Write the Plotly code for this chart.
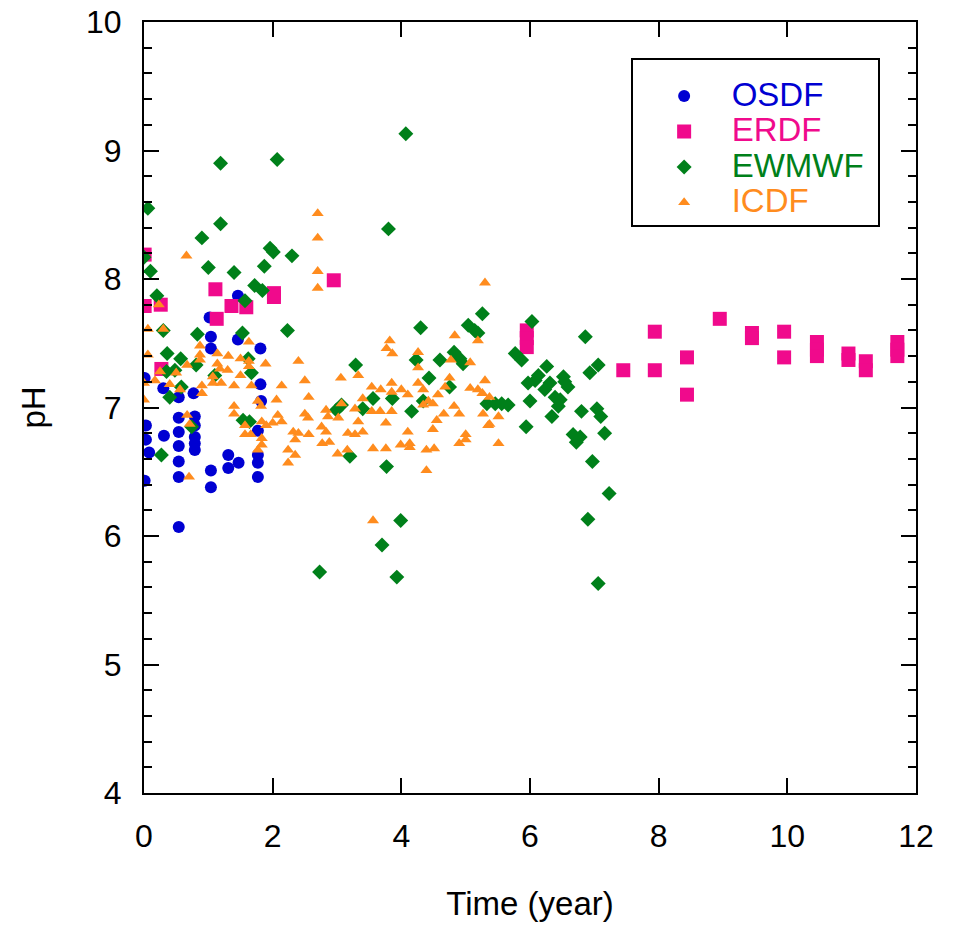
import plotly.graph_objects as go

# ---------------- data ----------------
OSDF = [(1.46, 7.87), (1.02, 7.70), (1.04, 7.55), (1.04, 7.46), (1.46, 7.53), (1.81, 7.46),
        (0.01, 7.23), (0.30, 7.15), (0.54, 7.08), (0.77, 7.11), (1.81, 7.18), (1.82, 7.05),
        (0.03, 6.86), (0.54, 6.92), (0.79, 6.93), (0.79, 6.86), (0.79, 6.77), (0.79, 6.72),
        (0.79, 6.67), (0.03, 6.75), (0.31, 6.78), (0.54, 6.81), (1.77, 6.82), (0.08, 6.65),
        (0.54, 6.70), (0.54, 6.58), (0.54, 6.46), (1.31, 6.63), (1.31, 6.53), (1.47, 6.57),
        (1.77, 6.63), (1.77, 6.57), (1.77, 6.46), (1.04, 6.51), (1.04, 6.38), (0.01, 6.43),
        (0.54, 6.07)]

ERDF = [(0.01, 8.19), (0.01, 7.79), (0.26, 7.80), (1.11, 7.92), (1.36, 7.79), (1.59, 7.78),
        (2.02, 7.89), (2.02, 7.86), (1.13, 7.69), (0.27, 7.30), (2.95, 7.99), (5.95, 7.60),
        (5.95, 7.54), (5.95, 7.47), (7.45, 7.29), (7.94, 7.59), (7.94, 7.29), (8.44, 7.39),
        (8.44, 7.10), (8.95, 7.69), (9.45, 7.58), (9.45, 7.54), (9.95, 7.59), (9.95, 7.39),
        (10.46, 7.51), (10.46, 7.45), (10.46, 7.40), (10.95, 7.42), (10.95, 7.37),
        (11.22, 7.36), (11.22, 7.29), (11.71, 7.51), (11.71, 7.45), (11.71, 7.40)]

EWMWF = [(1.19, 8.90), (2.07, 8.93), (0.06, 8.55), (1.19, 8.43), (0.90, 8.32), (1.96, 8.24),
         (2.01, 8.21), (2.30, 8.18), (0.00, 8.17), (0.10, 8.06), (1.00, 8.09), (1.40, 8.05),
         (1.87, 8.10), (1.72, 7.95), (1.84, 7.91), (1.57, 7.83), (0.20, 7.87), (0.30, 7.60),
         (0.83, 7.57), (1.53, 7.58), (2.23, 7.60), (0.36, 7.42), (0.57, 7.38), (0.81, 7.33),
         (1.62, 7.38), (1.67, 7.27), (1.10, 7.25), (0.35, 7.28), (0.48, 7.29), (0.58, 7.16),
         (0.40, 7.08), (1.54, 6.90), (1.64, 6.89), (0.74, 6.85), (0.27, 6.63),
         (4.07, 9.13), (3.80, 8.39), (4.30, 7.62), (5.26, 7.73), (5.04, 7.64), (5.14, 7.60),
         (5.19, 7.58), (3.29, 7.33), (4.23, 7.37), (4.60, 7.37), (4.82, 7.43), (4.91, 7.38),
         (4.96, 7.34), (4.43, 7.23), (4.75, 7.16), (3.07, 7.02), (2.99, 6.98), (3.40, 6.99),
         (3.56, 7.07), (3.86, 7.07), (4.16, 6.97), (4.34, 7.05), (5.33, 7.03), (3.20, 6.62),
         (3.77, 6.54), (3.99, 6.12), (3.70, 5.93), (2.73, 5.72), (3.93, 5.68),
         (6.03, 7.67), (6.86, 7.55), (5.77, 7.42), (5.87, 7.37), (7.06, 7.33), (6.93, 7.27),
         (6.26, 7.32), (6.13, 7.25), (5.97, 7.19), (6.08, 7.21), (6.31, 7.19), (6.23, 7.14),
         (6.52, 7.24), (6.59, 7.16), (6.54, 7.20), (6.00, 7.05), (6.39, 7.08), (6.47, 7.06),
         (6.44, 7.01), (6.34, 6.93), (5.94, 6.85), (6.80, 6.97), (7.04, 6.99), (7.10, 6.93),
         (6.67, 6.79), (6.78, 6.77), (6.72, 6.73), (7.16, 6.80), (6.97, 6.58), (7.23, 6.33),
         (6.90, 6.13), (7.06, 5.63), (5.46, 7.03), (5.56, 7.03), (5.66, 7.02)]

ICDF = [(0.66, 8.18), (0.23, 7.80), (0.06, 7.61), (0.30, 7.61), (0.06, 7.41), (0.87, 7.48),
        (0.87, 7.41), (0.87, 7.37), (0.67, 7.33), (1.14, 7.42), (1.31, 7.40), (1.14, 7.34),
        (1.50, 7.38), (1.63, 7.51), (1.63, 7.36), (1.63, 7.32), (1.89, 7.34), (0.25, 7.28),
        (0.17, 7.21), (0.50, 7.27), (0.40, 7.18), (0.56, 7.14), (0.00, 7.19), (0.00, 7.06),
        (1.07, 7.24), (1.07, 7.19), (1.20, 7.19), (1.18, 7.30), (1.30, 7.29), (0.90, 7.17),
        (0.90, 7.11), (1.40, 7.17), (1.50, 7.25), (1.67, 7.17), (2.14, 7.17), (1.77, 7.05),
        (1.82, 7.01), (2.06, 7.06), (1.40, 7.01), (1.40, 6.95), (0.67, 6.94), (0.71, 6.87),
        (1.57, 6.86), (1.57, 6.79), (1.66, 6.79), (1.83, 6.89), (1.90, 6.86), (2.00, 6.88),
        (2.08, 6.94), (2.14, 6.89), (1.83, 6.76), (1.83, 6.71), (1.77, 6.67), (2.24, 6.67),
        (2.24, 6.57), (0.70, 6.46),
        (2.70, 8.51), (2.70, 8.32), (2.70, 8.06), (2.70, 7.93), (5.30, 7.97), (3.82, 7.52),
        (3.77, 7.46), (3.86, 7.42), (2.40, 7.36), (2.50, 7.21), (2.56, 7.08), (2.50, 6.95),
        (2.55, 6.92), (2.32, 6.81), (2.40, 6.80), (2.35, 6.75), (2.35, 6.63), (2.56, 6.79),
        (2.76, 6.85), (2.83, 6.81), (2.77, 6.72), (2.88, 6.73), (3.01, 6.64), (2.83, 6.98),
        (2.86, 6.93), (3.02, 6.92), (3.07, 7.03), (3.06, 7.23), (3.33, 7.25), (3.28, 6.99),
        (3.40, 7.07), (3.33, 6.89), (3.17, 6.80), (3.28, 6.79), (3.40, 6.81), (3.16, 6.67),
        (3.54, 7.16), (3.68, 7.14), (3.54, 6.97), (3.67, 6.97), (3.85, 7.19), (3.85, 7.12),
        (4.00, 7.14), (3.85, 6.97), (3.76, 6.88), (3.56, 6.68), (3.76, 6.68), (3.56, 6.12),
        (4.10, 7.10), (4.10, 6.81), (3.99, 6.71), (4.13, 6.72), (4.13, 6.69), (4.26, 7.43),
        (4.26, 7.31), (4.26, 7.19), (4.34, 7.14), (4.34, 7.02), (4.42, 7.05), (4.49, 7.03),
        (4.57, 7.10), (4.68, 7.16), (4.75, 7.23), (4.55, 6.90), (4.66, 6.95), (4.49, 6.83),
        (4.39, 6.67), (4.51, 6.68), (4.39, 6.51), (4.77, 7.37), (4.83, 7.56), (5.19, 7.52),
        (5.07, 7.35), (5.07, 7.15), (5.19, 7.14), (5.26, 7.11), (5.30, 7.21), (4.82, 7.01),
        (4.90, 6.95), (5.27, 6.95), (5.00, 6.79), (4.90, 6.72), (5.00, 6.75), (5.35, 6.86),
        (5.37, 7.08), (5.51, 6.93), (5.37, 6.87), (5.51, 6.72)]

X_TICKS = [0, 2, 4, 6, 8, 10, 12]
Y_TICKS = [4, 5, 6, 7, 8, 9, 10]

# ---------------- styling ----------------
FONT = "Liberation Sans, Arial, sans-serif"
series = [
    ("OSDF", OSDF, "#0000d2", "circle", 12),
    ("ERDF", ERDF, "#f00a8c", "square", 14),
    ("EWMWF", EWMWF, "#00801a", "diamond", 11.5),
    ("ICDF", ICDF, "#ff8c1e", "triangle-up", 10.5),
]

fig = go.Figure()
for name, pts, color, symbol, size in series:
    xs = [p[0] for p in pts]
    ys = [p[1] for p in pts]
    fig.add_trace(go.Scatter(
        x=xs, y=ys, mode="markers",
        name=("<span style='color:%s;font-size:33px'>\u00a0\u00a0\u00a0%s\u00a0</span>" % (color, name)),
        marker=dict(color=color, symbol=symbol, size=size, line=dict(width=0)),
    ))

axis_common = dict(
    showline=True, linecolor="black", linewidth=2, mirror="allticks",
    ticks="inside", ticklen=15, tickwidth=2, tickcolor="black",
    showgrid=False, zeroline=False,
    tickfont=dict(family=FONT, size=32, color="black"),
)

fig.update_xaxes(range=[0, 12], tickvals=X_TICKS, ticklabelstandoff=14,
                 title=dict(text="Time (year)", font=dict(family=FONT, size=33, color="black"),
                            standoff=38),
                 **axis_common)
fig.update_yaxes(range=[4, 10], tickvals=Y_TICKS, ticklabelstandoff=14,
                 minor=dict(dtick=0.2, ticks="inside", ticklen=8, tickwidth=2,
                            tickcolor="black", showgrid=False),
                 title=dict(text="pH", font=dict(family=FONT, size=33, color="black"),
                            standoff=30),
                 **axis_common)

fig.update_layout(
    width=955, height=932,
    margin=dict(l=144, r=39, t=22, b=139, autoexpand=False),
    paper_bgcolor="white", plot_bgcolor="white",
    font=dict(family=FONT, color="black"),
    legend=dict(
        x=0.631, y=0.953, xanchor="left", yanchor="top",
        bordercolor="black", borderwidth=2, bgcolor="white",
        font=dict(family=FONT, size=25),
        title=dict(text="\u00a0", font=dict(family=FONT, size=10)),
        indentation=31, itemsizing="trace",
        tracegroupgap=0,
    ),
)

fig.write_html("out.html")
